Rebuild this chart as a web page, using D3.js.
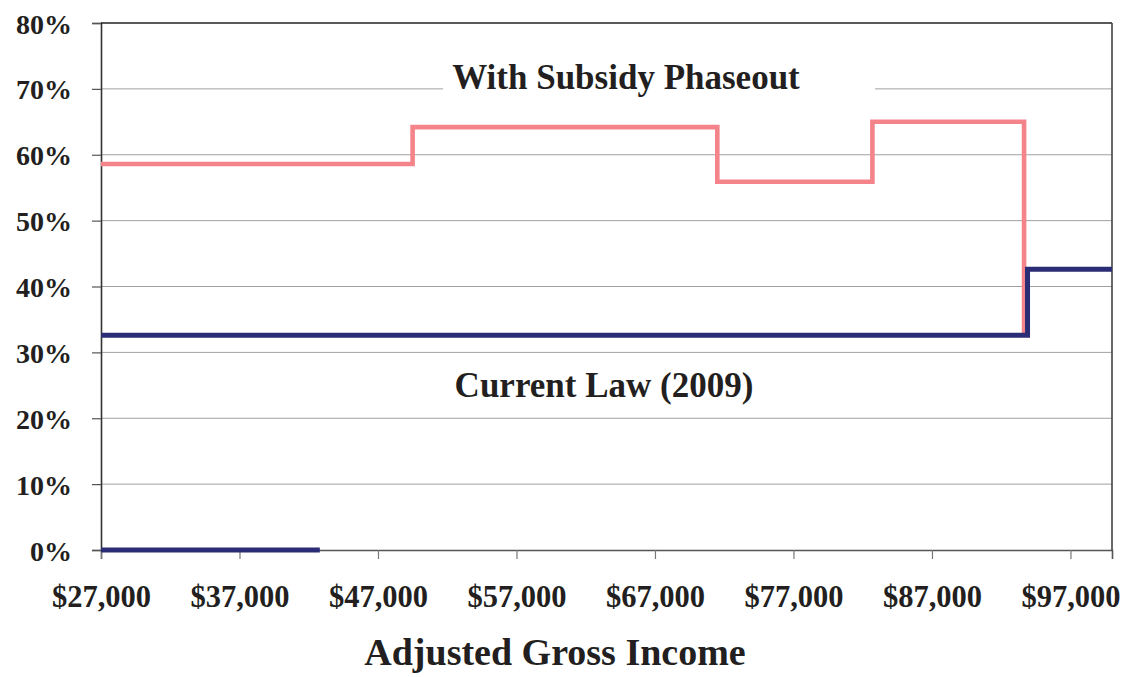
<!DOCTYPE html>
<html>
<head>
<meta charset="utf-8">
<script src="https://cdn.jsdelivr.net/npm/d3@7"></script>
<style>
  html, body { margin: 0; padding: 0; background: #fff; }
  svg { display: block; }
  text { font-family: "Liberation Serif", "Times New Roman", serif; font-weight: bold; fill: #231f20; }
</style>
</head>
<body>
<svg id="chart" width="1128" height="677"></svg>
<script>
// ---- data ----
const rateTicks = [0, 0.1, 0.2, 0.3, 0.4, 0.5, 0.6, 0.7, 0.8];
const incomeTicks = [27000, 37000, 47000, 57000, 67000, 77000, 87000, 97000];

// "With Subsidy Phaseout" step line (value holds until next income point)
const subsidyIncome = [27000, 49500, 71500, 82700, 93650];
const subsidyRate   = [0.586, 0.642, 0.559, 0.650, 0.329];

// "Current Law (2009)" step line
const currentIncome = [27000, 93900, 100000];
const currentRate   = [0.326, 0.426, 0.426];

// short zero-rate segment at the bottom
const zeroIncome = [27000, 42800];
const zeroRate   = [0, 0];

const labelSubsidy = "With Subsidy Phaseout";
const labelCurrent = "Current Law (2009)";
const xTitle = "Adjusted Gross Income";

// ---- layout ----
const svg = d3.select("#chart");
const plotL = 101, plotR = 1112, plotT = 23, plotB = 550;

const x = d3.scaleLinear().domain([27000, 100000]).range([plotL, plotR]);
const y = d3.scaleLinear().domain([0, 0.8]).range([plotB, plotT]);

// gridlines
svg.append("g").selectAll("line")
  .data(rateTicks.filter(d => d > 0 && d < 0.8))
  .join("line")
  .attr("x1", plotL).attr("x2", plotR)
  .attr("y1", d => y(d)).attr("y2", d => y(d))
  .attr("stroke", "#a0a0a0").attr("stroke-width", 1);

// y axis
const yAxis = d3.axisLeft(y).tickValues(rateTicks)
  .tickFormat(d3.format(".0%")).tickSize(9).tickPadding(20);
const gy = svg.append("g").attr("transform", `translate(${plotL},0)`).call(yAxis);
gy.select(".domain").attr("stroke", "#333").attr("stroke-width", 1.6);
gy.selectAll(".tick line").attr("stroke", "#555").attr("stroke-width", 1.2);
gy.selectAll(".tick text").attr("font-size", 28).attr("font-family", "Liberation Serif")
  .attr("font-weight", "bold").attr("fill", "#231f20").attr("dy", "0.36em");

// x axis
const xAxis = d3.axisBottom(x).tickValues(incomeTicks)
  .tickFormat(d => "$" + d3.format(",")(d)).tickSize(9).tickPadding(26);
const gx = svg.append("g").attr("transform", `translate(0,${plotB})`).call(xAxis);
gx.select(".domain").attr("stroke", "#555").attr("stroke-width", 1.6);
gx.selectAll(".tick line").attr("stroke", "#777").attr("stroke-width", 1.2);
gx.selectAll(".tick text").attr("font-size", 30.5).attr("font-family", "Liberation Serif")
  .attr("font-weight", "bold").attr("fill", "#231f20");

// top and right frame
svg.append("line").attr("x1", plotL).attr("x2", plotR).attr("y1", y(0.8)).attr("y2", y(0.8))
  .attr("stroke", "#222").attr("stroke-width", 1.6);
svg.append("line").attr("x1", plotR).attr("x2", plotR).attr("y1", y(0.8)).attr("y2", y(0))
  .attr("stroke", "#444").attr("stroke-width", 1.6);

// label for subsidy with white background box hiding the gridline
const subLabel = svg.append("g");
subLabel.append("rect")
  .attr("x", 443).attr("y", y(0.7) - 3).attr("width", 875 - 443).attr("height", 6)
  .attr("fill", "#fff");
subLabel.append("text")
  .attr("x", 626).attr("y", 89).attr("text-anchor", "middle")
  .attr("font-size", 35).text(labelSubsidy);

svg.append("text")
  .attr("x", 604).attr("y", 397).attr("text-anchor", "middle")
  .attr("font-size", 35).text(labelCurrent);

// lines
const line = d3.line().x(d => x(d[0])).y(d => y(d[1])).curve(d3.curveStepAfter);

svg.append("path")
  .datum(d3.zip(subsidyIncome, subsidyRate))
  .attr("d", line).attr("fill", "none")
  .attr("stroke", "#f4848a").attr("stroke-width", 4.6).attr("stroke-linejoin", "miter");

svg.append("path")
  .datum(d3.zip(currentIncome, currentRate))
  .attr("d", line).attr("fill", "none")
  .attr("stroke", "#2a2c75").attr("stroke-width", 5).attr("stroke-linejoin", "miter");

svg.append("path")
  .datum(d3.zip(zeroIncome, zeroRate))
  .attr("d", line).attr("fill", "none")
  .attr("stroke", "#2a2c75").attr("stroke-width", 5);

// x title
svg.append("text")
  .attr("x", 555).attr("y", 665).attr("text-anchor", "middle")
  .attr("font-size", 38).text(xTitle);
</script>
</body>
</html>
